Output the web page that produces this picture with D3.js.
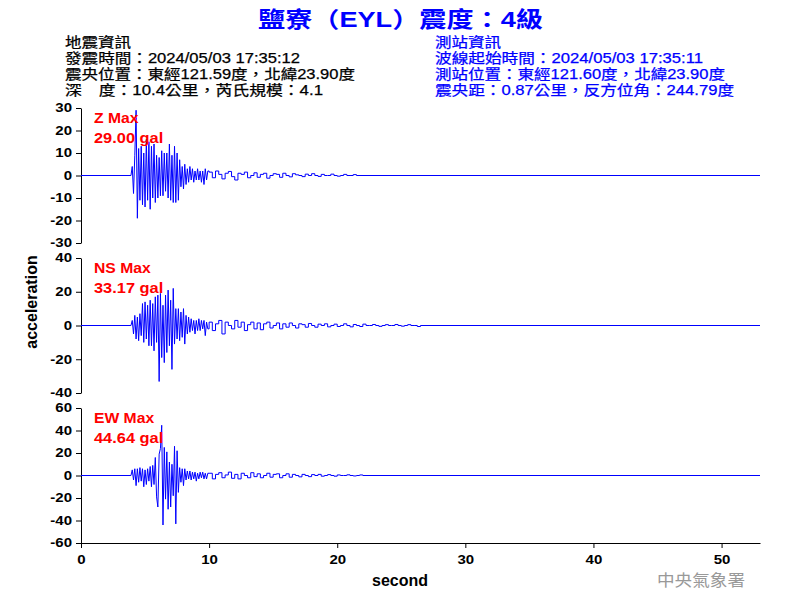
<!DOCTYPE html>
<html><head><meta charset="utf-8">
<script src="https://cdn.jsdelivr.net/npm/d3@7"></script>
<style>body{margin:0;background:#fff} svg{display:block}</style>
</head><body><svg id="c" width="800" height="600"></svg>
<script>
// ---------------- data ----------------
const title = "鹽寮（EYL）震度：4級";
const quakeInfo = ["地震資訊", "發震時間：2024/05/03 17:35:12", "震央位置：東經121.59度，北緯23.90度", "深　度：10.4公里，芮氏規模：4.1"];
const stationInfo = ["測站資訊", "波線起始時間：2024/05/03 17:35:11", "測站位置：東經121.60度，北緯23.90度", "震央距：0.87公里，反方位角：244.79度"];
const components = ["Z", "NS", "EW"];
const maxValues = ["29.00", "33.17", "44.64"];
const yLimits = [30, 40, 60];
const zTicks = [-30, -20, -10, 0, 10, 20, 30];
const nsTicks = [-40, -20, 0, 20, 40];
const ewTicks = [-60, -40, -20, 0, 20, 40, 60];
const xTicks = [0, 10, 20, 30, 40, 50];
const recordStart = 0, recordEnd = 53;
const strongStart = 3.9, strongStep = 0.1;   // seconds
const codaStart = 10.0, codaStep = 0.25;     // seconds

const zStrong = [0, 4, -8, 9, 29, -19, 12, -11, 13, -13, 10, -14, 16, -11, 15, -15, 13, -10, 14, -12, 9, -10, 8, -9, 11, -9, 10, -7, 10, -10, 14, -11, 9, -12, 13, -12, 10, -11, 7, -5, 4, -6, 5, -4, 3, -3, 4, -2, 3, -3, 2, -2, 3, -2, 2, -3, 2, -4, 3, -2, 2];
const zCoda = [1.5, -1, 2, 0.5, -1.5, 1, 1.8, -0.5, -2, 1, 0.5, 1.5, -1, 0, 1.2, -0.8, 0.5, 1, -1.2, 0, 0.8, 0.5, -0.8, 1, 0, -0.6, 0.8, 0.3, 0, -0.5, 0.6, 0, 0.8, 0, -0.4, 0.5, 0, 0, 0.6, 0, -0.3, 0, 0.5, 0, 0, 0.4, 0];

const nsStrong = [0, 3, -5, 6, -8, 5, -9, 7, -6, 13, -10, 14, -8, 12, -12, 15, -12, 13, -15, 17, -10, 18, -33.17, 19, -19, 12, -22, 18, -16, 21, -12, 15, -26, 22, -11, 10, -8, 10, -9, 8, -7, 10, -11, 6, -5, 5, -4, 4, -3, 3, -5, 3, -3, 4, -3, 3, -2, 3, -6, 2, -2];
const nsCoda = [2, -3, 1, 3, -5, 2, 0, -2, 3, -1, 2, -3, 0.5, 2, -2, 1.5, -2.5, 1, 2, -1.5, 0, 1.5, -2, 1, -1, 1.5, 0, -1.5, 1, 0.5, -1, 1.2, 0, -1, 0.8, 0, 1, -0.8, 0, 0.8, -0.6, 0, 1, 0, -0.8, 0.6, 0, -0.6, 0.8, 0, 0, 0.6, 0, -0.5, 0, 0.5, 0, 0, 0.6, 0, -0.4, 0, 0.5, 0, 0, -0.6, 0];

const ewStrong = [0, 5, -4, 6, -9, 6, -6, 7, -5, 6, -10, 5, -8, 6, -5, 8, -10, 9, -8, 16, -19, -28, 19, 24, 44.64, -44, 25, -21, 21, -30, 12, -28, 10, -18, 26, -43, 22, -15, 7, -6, 6, -9, 6, -4, 4, -3, 4, -4, 3, -3, 3, -5, 2, -3, 3, -2, 3, -3, 2, -3, 2];
const ewCoda = [2, -3, 1, 2.5, -2, 0.5, 3, -2.5, 1, -3, 2, 0, -2, 2.5, -1, 1.5, -2, 0, 2, -1.5, 1, 1.5, -2, 0, 1.5, -1.5, 1, 0, -1.2, 1, 0, -1, 0.8, 0, 1, -0.6, 0, 0.8, 0, -0.6, 0.5, 0, 0, 0.6, 0, -0.4, 0, 0.5, 0];

// ---------------- layout ----------------
const W = 800, H = 600;
const plotLeft = 81, plotRight = 760;
const panelTop0 = 108, panelH = 135, panelGap = 150;
const latin = "'Liberation Sans', Arial, 'Noto Sans CJK TC', sans-serif";
const blue = "#0000ff";

const svg = d3.select("#c");
svg.append("rect").attr("width", W).attr("height", H).attr("fill", "#fff");

function stretch(sel, k) {
  sel.each(function () {
    const w = this.getComputedTextLength();
    this.setAttribute("textLength", w * k);
    this.setAttribute("lengthAdjust", "spacingAndGlyphs");
  });
}
function fitWidth(sel, w) {
  sel.attr("textLength", w).attr("lengthAdjust", "spacingAndGlyphs");
}

// Title
svg.append("text").text(title)
  .attr("x", 258).attr("y", 27)
  .attr("font-family", latin).attr("font-weight", "bold").attr("font-size", 22)
  .attr("fill", blue).call(fitWidth, 285);

// Header info
const leftW = [66, 235, 290, 258], rightW = [66, 268, 290, 299];
const baseY = [47, 63, 79, 95];
quakeInfo.forEach((s, i) => {
  svg.append("text").text(s).attr("x", 65).attr("y", baseY[i])
    .attr("font-family", latin).attr("font-size", 14).attr("fill", "#000")
    .attr("stroke", "#000").attr("stroke-width", 0.25)
    .call(fitWidth, leftW[i]);
});
stationInfo.forEach((s, i) => {
  svg.append("text").text(s).attr("x", 435).attr("y", baseY[i])
    .attr("font-family", latin).attr("font-size", 14).attr("fill", blue)
    .attr("stroke", blue).attr("stroke-width", 0.25)
    .call(fitWidth, rightW[i]);
});

const x = d3.scaleLinear().domain([recordStart, recordEnd]).range([plotLeft, plotRight]);

function strongSeries(strong) {
  const pts = [[recordStart, 0]];
  strong.forEach((v, i) => pts.push([strongStart + i * strongStep, v]));
  return pts;
}
function codaSeries(strong, coda) {
  const pts = [[strongStart + (strong.length - 1) * strongStep, strong[strong.length - 1]]];
  coda.forEach((v, i) => pts.push([codaStart + i * codaStep, v]));
  pts.push([recordEnd, 0]);
  return pts;
}
const strongSets = [zStrong, nsStrong, ewStrong];
const codaSets = [zCoda, nsCoda, ewCoda];
const tickSets = [zTicks, nsTicks, ewTicks];

components.forEach((comp, i) => {
  const top = panelTop0 + i * panelGap;
  const y = d3.scaleLinear().domain([-yLimits[i], yLimits[i]]).range([top + panelH, top]);
  const g = svg.append("g");

  const ax = g.append("g").attr("transform", `translate(${plotLeft},0)`)
    .call(d3.axisLeft(y).tickValues(tickSets[i]).tickSize(5).tickSizeOuter(0).tickPadding(4).tickFormat(d => String(d)));
  ax.selectAll("path, line").attr("stroke", "#000");
  ax.selectAll("text").attr("font-family", latin).attr("font-weight", "bold").attr("font-size", 12).attr("fill", "#000")
    .call(stretch, 1.25);

  g.append("path").datum(strongSeries(strongSets[i]))
    .attr("fill", "none").attr("stroke", blue).attr("stroke-width", 1)
    .attr("d", d3.line().x(d => x(d[0])).y(d => y(d[1])));
  g.append("path").datum(codaSeries(strongSets[i], codaSets[i]))
    .attr("fill", "none").attr("stroke", blue).attr("stroke-width", 1)
    .attr("d", d3.line().curve(d3.curveStepAfter).x(d => x(d[0])).y(d => y(d[1])));

  g.append("text").text(comp + " Max").attr("x", 94).attr("y", top + 15)
    .attr("font-family", latin).attr("font-weight", "bold").attr("font-size", 14).attr("fill", "#ff0000").call(stretch, 1.12);
  g.append("text").text(maxValues[i] + " gal").attr("x", 94).attr("y", top + 35)
    .attr("font-family", latin).attr("font-weight", "bold").attr("font-size", 14).attr("fill", "#ff0000").call(stretch, 1.17);

  if (i === components.length - 1) {
    const xa = g.append("g").attr("transform", `translate(0,${top + panelH})`)
      .call(d3.axisBottom(x).tickValues(xTicks).tickSize(5).tickSizeOuter(0).tickPadding(7).tickFormat(d => String(d)));
    xa.selectAll("path, line").attr("stroke", "#000");
    xa.selectAll("text").attr("font-family", latin).attr("font-weight", "bold").attr("font-size", 12).attr("fill", "#000")
      .call(stretch, 1.25);
  }
});

// Axis titles
svg.append("text").text("acceleration")
  .attr("transform", "translate(37,302) rotate(-90)").attr("text-anchor", "middle")
  .attr("font-family", latin).attr("font-weight", "bold").attr("font-size", 16).attr("fill", "#000");
svg.append("text").text("second")
  .attr("x", 400).attr("y", 586).attr("text-anchor", "middle")
  .attr("font-family", latin).attr("font-weight", "bold").attr("font-size", 16).attr("fill", "#000");

// Watermark
svg.append("text").text("中央氣象署")
  .attr("x", 657).attr("y", 586)
  .attr("font-family", "'Noto Sans CJK TC', sans-serif").attr("font-size", 16)
  .attr("fill", "#999999").call(fitWidth, 88);
</script></body></html>
